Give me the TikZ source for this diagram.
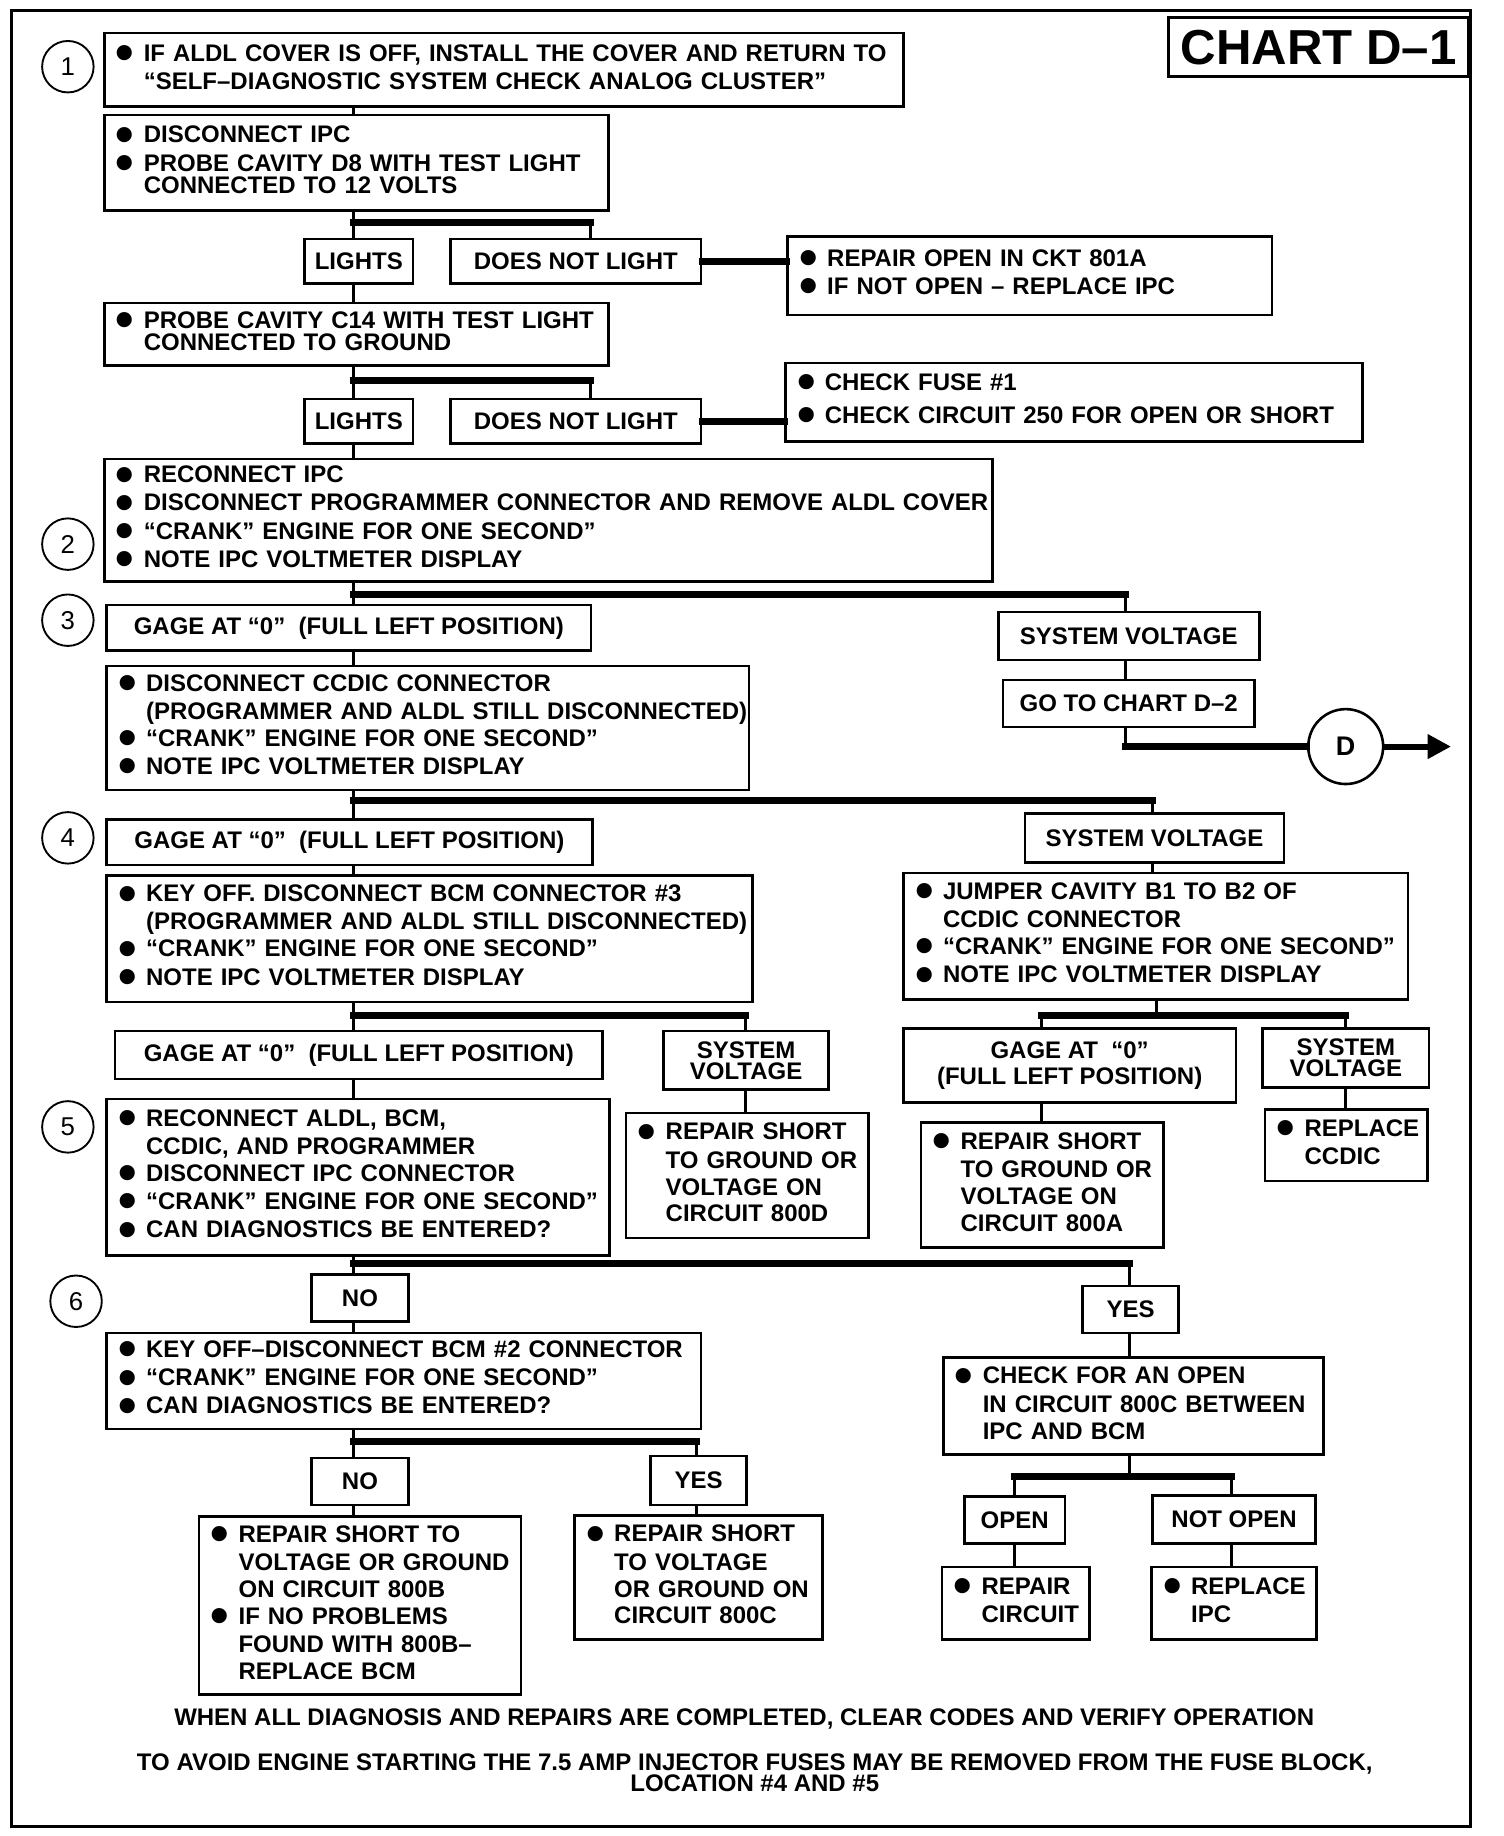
\documentclass[tikz,border=0pt]{standalone}
\usepackage{fontspec}
\setmainfont{Liberation Sans}
\usepackage{tikz}
\usetikzlibrary{arrows.meta,calc}
\newcommand{\boxfont}{\fontsize{20.5}{23}\selectfont\bfseries}
\newcommand{\stepfont}{\fontsize{22}{22}\selectfont}
\newcommand{\bul}{\raisebox{-8pt}{\scalebox{2.2}{\textbullet}}}
\newenvironment{blist}{\begin{tabular}{@{}l@{\hspace{8pt}}l@{}}}{\end{tabular}}
\tikzstyle{box} = [draw, line width=2.2pt, anchor=north west, inner xsep=10pt, inner ysep=0pt, align=left, font=\boxfont]
\tikzstyle{tag} = [draw, line width=2.2pt, anchor=north west, inner sep=0pt, align=center, font=\boxfont]
\tikzstyle{stepno} = [circle, draw, line width=1.6pt, minimum size=44pt, inner sep=0pt, font=\stepfont]
\tikzstyle{link} = [line width=2.6pt]
\tikzstyle{branch} = [line width=6pt, line cap=rect]
\tikzstyle{frame} = [line width=2.6pt]

\begin{document}
\begin{tikzpicture}[x=1pt, y=-1pt]
    \useasboundingbox (0,0) rectangle (1285,1569);
    % Frame and title
    \draw[frame] (10,9) rectangle (1257,1561);
    \node[draw, line width=2.6pt, anchor=north west, minimum width=257pt, minimum height=50pt, inner sep=0pt, font=\fontsize{42}{42}\selectfont\bfseries] (title) at (997,14) {CHART D--1};
    \coordinate (trunk) at (302,0);

    % Step numbers
    \node[stepno] (s1) at (58,57) {1};
    \node[stepno] (s2) at (58,465) {2};
    \node[stepno] (s3) at (58,530) {3};
    \node[stepno] (s4) at (58,716) {4};
    \node[stepno] (s5) at (58,963) {5};
    \node[stepno] (s6) at (65,1112) {6};

    % Step 1
    \node[box, text width=663pt, minimum height=63pt] (aldl) at (88,27) {\begin{blist}\bul & IF ALDL COVER IS OFF, INSTALL THE COVER AND RETURN TO\\ & “SELF--DIAGNOSTIC SYSTEM CHECK ANALOG CLUSTER”\end{blist}};
    \node[box, text width=411pt, minimum height=82pt] (probed8) at (88,97) {\begin{blist}\bul & DISCONNECT IPC\\ \bul & PROBE CAVITY D8 WITH TEST LIGHT\\[-5pt] & CONNECTED TO 12 VOLTS\end{blist}};
    \node[tag, minimum width=93pt, minimum height=38pt] (lights1) at (259,203) {LIGHTS};
    \node[tag, minimum width=214pt, minimum height=38pt] (nolight1) at (384,203) {DOES NOT LIGHT};
    \node[box, text width=394pt, minimum height=67pt] (open801) at (672,201) {\begin{blist}\bul & REPAIR OPEN IN CKT 801A\\ \bul & IF NOT OPEN -- REPLACE IPC\end{blist}};
    \node[box, text width=411pt, minimum height=53pt] (probec14) at (88,258) {\begin{blist}\bul & PROBE CAVITY C14 WITH TEST LIGHT\\[-5pt] & CONNECTED TO GROUND\end{blist}};
    \node[tag, minimum width=93pt, minimum height=38pt] (lights2) at (259,340) {LIGHTS};
    \node[tag, minimum width=214pt, minimum height=38pt] (nolight2) at (384,340) {DOES NOT LIGHT};
    \node[box, text width=473pt, minimum height=67pt] (fuse) at (670,309) {\begin{blist}\bul & CHECK FUSE \#1\\[5pt] \bul & CHECK CIRCUIT 250 FOR OPEN OR SHORT\end{blist}};

    % Step 2 and 3
    \node[box, text width=739pt, minimum height=105pt] (reconnect) at (88,391) {\begin{blist}\bul & RECONNECT IPC\\ \bul & DISCONNECT PROGRAMMER CONNECTOR AND REMOVE ALDL COVER\\ \bul & “CRANK” ENGINE FOR ONE SECOND”\\ \bul & NOTE IPC VOLTMETER DISPLAY\end{blist}};
    \node[tag, minimum width=414pt, minimum height=39pt] (gage3) at (90,516) {GAGE AT “0”\ \ (FULL LEFT POSITION)};
    \node[tag, minimum width=223pt, minimum height=41pt] (sysv3) at (852,522) {SYSTEM VOLTAGE};
    \node[tag, minimum width=215pt, minimum height=40pt] (gochart) at (856,580) {GO TO CHART D--2};
    \node[circle, draw, line width=2.2pt, minimum size=64pt, inner sep=0pt, font=\fontsize{23}{23}\selectfont\bfseries] (chartd) at (1150,638) {D};
    \coordinate (darrow) at (1240,638);
    \node[box, text width=529pt, minimum height=106pt] (ccdic) at (90,568) {\begin{blist}\bul & DISCONNECT CCDIC CONNECTOR\\ & (PROGRAMMER AND ALDL STILL DISCONNECTED)\\ \bul & “CRANK” ENGINE FOR ONE SECOND”\\ \bul & NOTE IPC VOLTMETER DISPLAY\end{blist}};

    % Step 4
    \node[tag, minimum width=415pt, minimum height=39pt] (gage4) at (90,699) {GAGE AT “0”\ \ (FULL LEFT POSITION)};
    \node[tag, minimum width=221pt, minimum height=42pt] (sysv4) at (875,694) {SYSTEM VOLTAGE};
    \node[box, text width=532pt, minimum height=108pt] (bcm3) at (90,747) {\begin{blist}\bul & KEY OFF. DISCONNECT BCM CONNECTOR \#3\\ & (PROGRAMMER AND ALDL STILL DISCONNECTED)\\ \bul & “CRANK” ENGINE FOR ONE SECOND”\\ \bul & NOTE IPC VOLTMETER DISPLAY\end{blist}};
    \node[box, text width=411pt, minimum height=108pt] (jumper) at (771,745) {\begin{blist}\bul & JUMPER CAVITY B1 TO B2 OF\\ & CCDIC CONNECTOR\\ \bul & “CRANK” ENGINE FOR ONE SECOND”\\ \bul & NOTE IPC VOLTMETER DISPLAY\end{blist}};

    % Step 5
    \node[tag, minimum width=417pt, minimum height=41pt] (gage5) at (97,880) {GAGE AT “0”\ \ (FULL LEFT POSITION)};
    \node[tag, minimum width=141pt, minimum height=50pt] (sysv5) at (566,880) {SYSTEM\\[-5pt] VOLTAGE};
    \node[tag, minimum width=284pt, minimum height=63pt] (gage6) at (771,878) {GAGE AT\ \ “0”\\ (FULL LEFT POSITION)};
    \node[tag, minimum width=142pt, minimum height=50pt] (sysv6) at (1078,878) {SYSTEM\\[-5pt] VOLTAGE};
    \node[box, text width=410pt, minimum height=134pt] (reconnect5) at (90,938) {\begin{blist}\bul & RECONNECT ALDL, BCM,\\ & CCDIC, AND PROGRAMMER\\ \bul & DISCONNECT IPC CONNECTOR\\ \bul & “CRANK” ENGINE FOR ONE SECOND”\\ \bul & CAN DIAGNOSTICS BE ENTERED?\end{blist}};
    \node[box, text width=187pt, minimum height=107pt] (short800d) at (534,950) {\begin{blist}\bul & REPAIR SHORT\\ & TO GROUND OR\\ & VOLTAGE ON\\ & CIRCUIT 800D\end{blist}};
    \node[box, text width=187pt, minimum height=107pt] (short800a) at (786,958) {\begin{blist}\bul & REPAIR SHORT\\ & TO GROUND OR\\ & VOLTAGE ON\\ & CIRCUIT 800A\end{blist}};
    \node[box, text width=119pt, minimum height=61pt] (replccdic) at (1080,947) {\begin{blist}\bul & REPLACE\\ & CCDIC\end{blist}};

    % Step 6
    \node[tag, minimum width=83pt, minimum height=40pt] (no6) at (265,1088) {NO};
    \node[tag, minimum width=82pt, minimum height=40pt] (yes6) at (924,1098) {YES};
    \node[box, text width=488pt, minimum height=82pt] (bcm2) at (90,1138) {\begin{blist}\bul & KEY OFF--DISCONNECT BCM \#2 CONNECTOR\\ \bul & “CRANK” ENGINE FOR ONE SECOND”\\ \bul & CAN DIAGNOSTICS BE ENTERED?\end{blist}};
    \node[box, text width=305pt, minimum height=83pt] (open800c) at (805,1159) {\begin{blist}\bul & CHECK FOR AN OPEN\\ & IN CIRCUIT 800C BETWEEN\\ & IPC AND BCM\end{blist}};
    \node[tag, minimum width=83pt, minimum height=40pt] (no7) at (265,1245) {NO};
    \node[tag, minimum width=82pt, minimum height=42pt] (yes7) at (555,1243) {YES};
    \node[box, text width=255pt, minimum height=152pt] (short800b) at (169,1295) {\begin{blist}\bul & REPAIR SHORT TO\\ & VOLTAGE OR GROUND\\ & ON CIRCUIT 800B\\ \bul & IF NO PROBLEMS\\ & FOUND WITH 800B--\\ & REPLACE BCM\end{blist}};
    \node[box, text width=192pt, minimum height=106pt] (short800c) at (490,1294) {\begin{blist}\bul & REPAIR SHORT\\ & TO VOLTAGE\\ & OR GROUND ON\\ & CIRCUIT 800C\end{blist}};
    \node[tag, minimum width=86pt, minimum height=40pt] (open) at (823,1278) {OPEN};
    \node[tag, minimum width=139pt, minimum height=41pt] (notopen) at (984,1277) {NOT OPEN};
    \node[box, text width=106pt, minimum height=62pt] (repaircirc) at (804,1338) {\begin{blist}\bul & REPAIR\\ & CIRCUIT\end{blist}};
    \node[box, text width=121pt, minimum height=62pt] (replipc) at (983,1338) {\begin{blist}\bul & REPLACE\\ & IPC\end{blist}};

    % Notes
    \node[font=\boxfont] (done) at (636,1469) {WHEN ALL DIAGNOSIS AND REPAIRS ARE COMPLETED, CLEAR CODES AND VERIFY OPERATION};
    \node[font=\fontsize{20.5}{18}\selectfont\bfseries, align=center] (fuses) at (645,1515) {TO AVOID ENGINE STARTING THE 7.5 AMP INJECTOR FUSES MAY BE REMOVED FROM THE FUSE BLOCK,\\ LOCATION \#4 AND \#5};

    % Trunk links
    \draw[link] (aldl.south -| trunk) -- (probed8.north -| trunk);
    \draw[link] (probed8.south -| trunk) -- (lights1.north -| trunk);
    \draw[link] (lights1.south -| trunk) -- (probec14.north -| trunk);
    \draw[link] (probec14.south -| trunk) -- (lights2.north -| trunk);
    \draw[link] (lights2.south -| trunk) -- (reconnect.north -| trunk);
    \draw[link] (reconnect.south -| trunk) -- (gage3.north -| trunk);
    \draw[link] (gage3.south -| trunk) -- (ccdic.north -| trunk);
    \draw[link] (ccdic.south -| trunk) -- (gage4.north -| trunk);
    \draw[link] (gage4.south -| trunk) -- (bcm3.north -| trunk);
    \draw[link] (bcm3.south -| trunk) -- (gage5.north -| trunk);
    \draw[link] (gage5.south -| trunk) -- (reconnect5.north -| trunk);
    \draw[link] (reconnect5.south -| trunk) -- (no6.north -| trunk);
    \draw[link] (no6.south -| trunk) -- (bcm2.north -| trunk);
    \draw[link] (bcm2.south -| trunk) -- (no7.north -| trunk);
    \draw[link] (no7.south -| trunk) -- (short800b.north -| trunk);

    % Branches
    \coordinate (j1) at (302,190); \coordinate (j1e) at (505,190);
    \draw[branch] (j1) -- (j1e);
    \draw[link] (j1e) -- (j1e |- nolight1.north);
    \draw[branch] (nolight1.east) -- (nolight1.east -| open801.west);
    \coordinate (j2) at (302,325); \coordinate (j2e) at (505,325);
    \draw[branch] (j2) -- (j2e);
    \draw[link] (j2e) -- (j2e |- nolight2.north);
    \draw[branch] (nolight2.east) -- (nolight2.east -| fuse.west);
    \coordinate (j3) at (302,508); \coordinate (j3e) at (962,508);
    \draw[branch] (j3) -- (j3e);
    \draw[link] (j3e) -- (j3e |- sysv3.north);
    \draw[link] (sysv3.south -| j3e) -- (gochart.north -| j3e);
    \draw[link] (gochart.south -| j3e) -- (j3e |- chartd.west);
    \draw[branch] (j3e |- chartd.west) -- (chartd.west);
    \draw[line width=5pt, -{Triangle[length=20pt, width=20pt]}] (chartd.east) -- (darrow);
    \coordinate (j4) at (302,684); \coordinate (j4e) at (985,684);
    \draw[branch] (j4) -- (j4e);
    \draw[link] (j4e) -- (j4e |- sysv4.north);
    \draw[link] (sysv4.south -| j4e) -- (jumper.north -| j4e);
    \coordinate (j5) at (302,868); \coordinate (j5e) at (637,868);
    \draw[branch] (j5) -- (j5e);
    \draw[link] (j5e) -- (j5e |- sysv5.north);
    \draw[link] (sysv5.south -| j5e) -- (short800d.north -| j5e);
    \coordinate (j6) at (988,868); \coordinate (j6a) at (890,868); \coordinate (j6b) at (1150,868);
    \draw[link] (jumper.south -| j6) -- (j6);
    \draw[branch] (j6a) -- (j6b);
    \draw[link] (j6a) -- (j6a |- gage6.north);
    \draw[link] (j6b) -- (j6b |- sysv6.north);
    \draw[link] (gage6.south -| j6a) -- (short800a.north -| j6a);
    \draw[link] (sysv6.south -| j6b) -- (replccdic.north -| j6b);
    \coordinate (j7) at (302,1080); \coordinate (j7e) at (965,1080);
    \draw[branch] (j7) -- (j7e);
    \draw[link] (j7e) -- (j7e |- yes6.north);
    \draw[link] (yes6.south -| j7e) -- (open800c.north -| j7e);
    \coordinate (j8) at (302,1232); \coordinate (j8e) at (595,1232);
    \draw[branch] (j8) -- (j8e);
    \draw[link] (j8e) -- (j8e |- yes7.north);
    \draw[link] (yes7.south -| j8e) -- (short800c.north -| j8e);
    \coordinate (j9) at (965,1262); \coordinate (j9a) at (867,1262); \coordinate (j9b) at (1052,1262);
    \draw[link] (open800c.south -| j9) -- (j9);
    \draw[branch] (j9a) -- (j9b);
    \draw[link] (j9a) -- (j9a |- open.north);
    \draw[link] (j9b) -- (j9b |- notopen.north);
    \draw[link] (open.south -| j9a) -- (repaircirc.north -| j9a);
    \draw[link] (notopen.south -| j9b) -- (replipc.north -| j9b);
\end{tikzpicture}
\end{document}
